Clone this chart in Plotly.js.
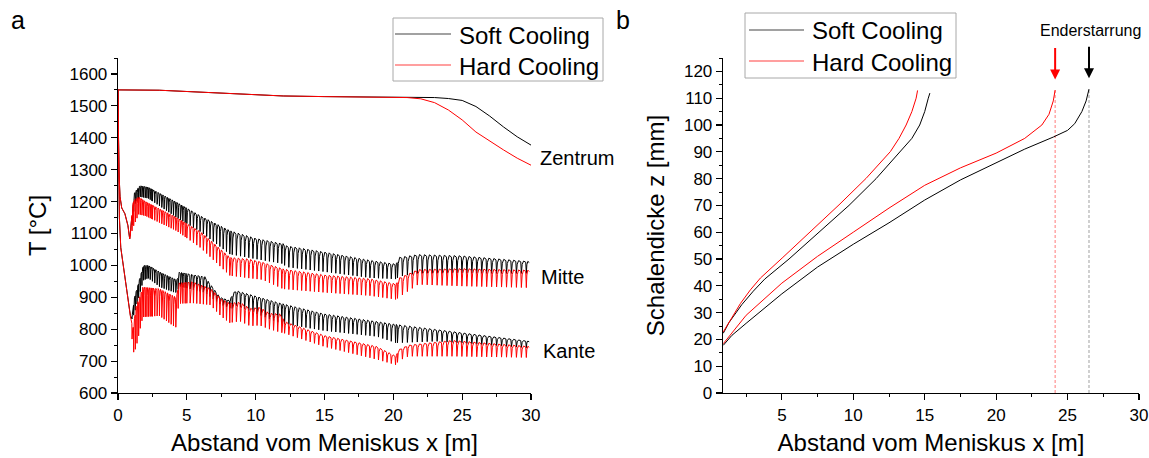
<!DOCTYPE html>
<html><head><meta charset="utf-8">
<script src="https://cdn.plot.ly/plotly-3.0.1.min.js"></script>
<style>html,body{margin:0;padding:0;background:#fff}#chart{width:1149px;height:458px}</style>
</head><body><div id="chart"></div>
<script>
// ---------- Panel a: temperature vs distance ----------
// Zentrum (smooth)
const zentrumSoftX = [0, 1, 3, 5, 8, 10, 12, 15, 18, 20, 22, 23, 24, 25, 26, 27, 28, 29, 30];
const zentrumSoftT = [1550, 1550, 1549, 1545, 1538, 1534, 1531, 1529, 1528, 1528, 1527, 1526, 1523, 1517, 1498, 1468, 1434, 1403, 1377];
const zentrumHardX = [0, 1, 3, 5, 8, 10, 12, 15, 18, 20, 21, 22, 23, 24, 25, 26, 27, 28, 29, 30];
const zentrumHardT = [1550, 1550, 1549, 1545, 1538, 1534, 1531, 1529, 1528, 1527, 1526, 1522, 1510, 1487, 1456, 1418, 1389, 1362, 1336, 1314];

// Mitte: initial smooth drop (shared), then roll-induced oscillation envelopes
const mitteStartX = [0, 0.02, 0.06, 0.15, 0.27, 0.5, 0.72, 0.85];
const mitteStartT = [1550, 1420, 1300, 1215, 1180, 1162, 1125, 1083];
const mitteSoftEnvX = [0.85, 1.0, 1.2, 1.6, 2.2, 4.26, 6, 8.13, 10, 12, 12.2, 15, 18.3, 20.2, 20.4, 21.8, 25, 29.9];
const mitteSoftTop  = [1083, 1150, 1229, 1250, 1245, 1198, 1155, 1109, 1085, 1068, 1062, 1042, 1016, 1004, 1025, 1034, 1030, 1012];
const mitteSoftBot  = [1083, 1120, 1190, 1215, 1210, 1150, 1105, 1035, 1020, 1005, 995, 980, 961, 957, 965, 975, 975, 975];
const mitteHardEnvX = [0.85, 1.1, 1.5, 2.0, 4.26, 6, 8.13, 9.5, 10.5, 12, 15, 18.3, 20.2, 20.4, 21.8, 25, 29.9];
const mitteHardTop  = [1083, 1203, 1215, 1200, 1150, 1105, 1025, 1020, 1010, 989, 970, 958, 942, 960, 987, 990, 985];
const mitteHardBot  = [1083, 1120, 1160, 1155, 1108, 1055, 968, 960, 955, 926, 915, 905, 893, 900, 940, 935, 930];

// Kante
const kanteStartX = [0, 0.02, 0.04, 0.1, 0.2, 0.4, 0.6, 0.78, 0.9];
const kanteStartT = [1550, 1420, 1300, 1150, 1056, 990, 930, 880, 843];
const kanteSoftEnvX = [0.9, 1.0, 1.2, 1.84, 2.2, 3.05, 4.1, 4.3, 4.45, 5.7, 6.3, 7.4, 8.1, 8.4, 8.6, 11.77, 15, 18.8, 20.2, 23.1, 29.9];
const kanteSoftTop  = [843, 835, 900, 1000, 1000, 979, 958, 955, 979, 969, 965, 900, 890, 915, 921, 882, 848, 824, 815, 799, 762];
const kanteSoftBot  = [843, 830, 850, 953, 960, 932, 915, 915, 935, 921, 915, 879, 865, 865, 874, 819, 795, 777, 757, 762, 741];
const kanteHardEnvX = [0.9, 1.1, 1.3, 1.8, 3.0, 4.0, 4.25, 4.4, 5.4, 6.7, 7.5, 8.1, 8.85, 9.6, 10.3, 11.0, 11.8, 12.1, 15, 18.8, 20.2, 20.35, 21.1, 24.3, 29.9];
const kanteHardTop  = [840, 800, 870, 932, 927, 905, 900, 945, 949, 928, 895, 882, 885, 865, 869, 850, 848, 824, 780, 746, 715, 735, 750, 765, 746];
const kanteHardBot  = [835, 725, 740, 838, 842, 811, 805, 880, 882, 876, 840, 820, 825, 810, 812, 800, 790, 787, 745, 705, 688, 700, 715, 715, 711];

// roll zones read from the tooth spacing: [from, to, pitch]
const rollZones = [[0.9, 2.5, 0.12], [2.5, 5.0, 0.17], [5.0, 8.3, 0.24], [8.3, 12.1, 0.3], [12.1, 20.3, 0.31], [20.3, 30.0, 0.36]];

// ---------- Panel b: shell thickness ----------
const shellASoftX = [0.9, 1.3, 2.2, 3.0, 3.8, 5.5, 7.6, 9.7, 11.6, 13.3, 14.1, 14.65, 15.0, 15.25, 15.36];
const shellASoftZ = [22.3, 26.3, 33.0, 38.0, 42.5, 50, 60, 70, 80, 90, 95, 100, 105, 110, 111.9];
const shellAHardX = [0.9, 1.5, 2.1, 2.8, 3.5, 5.07, 7.05, 9.0, 10.9, 12.6, 13.2, 13.7, 14.1, 14.4, 14.5];
const shellAHardZ = [22.8, 28, 33.4, 38.5, 42.9, 50.6, 60.4, 70.2, 80.1, 90.1, 95, 100, 105, 110, 112.9];
const shellBSoftX = [0.9, 1.5, 2.5, 5, 7.5, 10, 12.5, 15, 17.5, 20, 22, 24, 25, 25.5, 26, 26.3, 26.5];
const shellBSoftZ = [17.8, 21.5, 26, 37, 47, 55.5, 63.5, 72, 79.5, 86, 91, 95.5, 98, 100.5, 105, 109, 113.4];
const shellBHardX = [0.9, 1.5, 2.5, 5, 7.5, 10, 12.5, 15, 17.5, 20, 22, 23.2, 23.7, 24.0, 24.13];
const shellBHardZ = [18.4, 22.5, 29, 41, 51, 60, 69, 77.5, 84, 89.5, 95, 100, 104, 109, 113];

const labels = {soft: 'Soft Cooling', hard: 'Hard Cooling', z: 'Zentrum', m: 'Mitte', k: 'Kante', end: 'Enderstarrung'};

// ---------- helpers ----------
function interp(xs, ys, x) {
  if (x <= xs[0]) return ys[0];
  for (let i = 1; i < xs.length; i++) {
    if (x <= xs[i]) { const t = (x - xs[i-1]) / (xs[i] - xs[i-1]); return ys[i-1] + t * (ys[i] - ys[i-1]); }
  }
  return ys[ys.length - 1];
}
function rollList() {
  const r = [];
  rollZones.forEach(([a, b, p]) => { for (let x = a; x < b - 1e-6; x += p) r.push(+x.toFixed(4)); });
  r.push(30.0);
  return r;
}
const rolls = rollList();
function oscillating(sx, st, ex, top, bot) {
  const X = sx.slice(), Y = st.slice();
  const x0 = ex[0], x1 = ex[ex.length - 1];
  const rr = rolls.filter(r => r >= x0 && r <= x1);
  for (let i = 0; i < rr.length; i++) {
    const r = rr[i];
    const p = (i + 1 < rr.length ? rr[i+1] : x1) - r;
    const T = (x) => interp(ex, top, x), B = (x) => interp(ex, bot, x);
    const a = T(r) - B(r);
    X.push(r); Y.push(B(r));
    if (p > 0.02) {
      X.push(r + 0.16*p); Y.push(T(r + 0.16*p) - 0.28*a);
      X.push(r + 0.45*p); Y.push(T(r + 0.45*p));
      X.push(r + 0.88*p); Y.push(T(r + 0.88*p) - 0.08*a);
    }
  }
  return {x: X, y: Y};
}

const BLACK = '#000000', RED = '#ff0000';
const FONT = 'Liberation Sans, Arial, sans-serif';
const traces = [];
function line(x, y, color, xa, ya, extra) {
  return Object.assign({x, y, type: 'scatter', mode: 'lines', line: {color, width: 1}, xaxis: xa, yaxis: ya, hoverinfo: 'skip', showlegend: false}, extra || {});
}
// panel a
const mS = oscillating(mitteStartX, mitteStartT, mitteSoftEnvX, mitteSoftTop, mitteSoftBot);
const mH = oscillating(mitteStartX, mitteStartT, mitteHardEnvX, mitteHardTop, mitteHardBot);
const kS = oscillating(kanteStartX, kanteStartT, kanteSoftEnvX, kanteSoftTop, kanteSoftBot);
const kH = oscillating(kanteStartX, kanteStartT, kanteHardEnvX, kanteHardTop, kanteHardBot);
traces.push(line(zentrumSoftX, zentrumSoftT, BLACK, 'x', 'y', {name: labels.soft}));
traces.push(line(mS.x, mS.y, BLACK, 'x', 'y', {name: labels.soft}));
traces.push(line(kS.x, kS.y, BLACK, 'x', 'y', {name: labels.soft}));
traces.push(line(zentrumHardX, zentrumHardT, RED, 'x', 'y', {name: labels.hard}));
traces.push(line(mH.x, mH.y, RED, 'x', 'y', {name: labels.hard}));
traces.push(line(kH.x, kH.y, RED, 'x', 'y', {name: labels.hard}));
// panel b
const last = a => a[a.length - 1];
traces.push(line([last(shellBHardX), last(shellBHardX)], [0, last(shellBHardZ)], RED, 'x2', 'y2', {line: {color: 'rgba(255,90,90,0.8)', width: 1, dash: '3px,2px'}}));
traces.push(line([last(shellBSoftX), last(shellBSoftX)], [0, last(shellBSoftZ)], BLACK, 'x2', 'y2', {line: {color: 'rgba(150,150,150,0.9)', width: 1, dash: '3px,2px'}}));
traces.push(line(shellASoftX, shellASoftZ, BLACK, 'x2', 'y2', {name: labels.soft}));
traces.push(line(shellBSoftX, shellBSoftZ, BLACK, 'x2', 'y2', {name: labels.soft}));
traces.push(line(shellAHardX, shellAHardZ, RED, 'x2', 'y2', {name: labels.hard}));
traces.push(line(shellBHardX, shellBHardZ, RED, 'x2', 'y2', {name: labels.hard}));

const W = 1149, H = 458, T0 = 58, B0 = 65, PH = H - T0 - B0;
const py = px => 1 + (T0 - px) / PH;  // pixel-from-top -> paper y
const pxX = px => px / W;

const axisCommon = {
  showline: true, linecolor: '#000', linewidth: 1.3, ticks: 'outside', ticklen: 6, tickwidth: 1.2, tickcolor: '#000',
  showgrid: false, zeroline: false, mirror: false, tickfont: {family: FONT, size: 17, color: '#000'},
  minor: {ticks: 'outside', ticklen: 3, tickwidth: 1, tickcolor: '#000', showgrid: false}
};
const titleFont = {family: FONT, size: 24, color: '#000'};

// manual legend boxes (two panels)
const legendBoxes = [
  {x0: 393, x1: 603, y0: 18, y1: 81, lx0: 395, lx1: 451, ySoft: 34, yHard: 65, tx: 457},
  {x0: 745, x1: 956, y0: 13, y1: 78, lx0: 749, lx1: 804, ySoft: 30, yHard: 61, tx: 810}
];
const shapes = [], annotations = [];
legendBoxes.forEach(b => {
  shapes.push({type: 'rect', xref: 'paper', yref: 'paper', x0: pxX(b.x0), x1: pxX(b.x1), y0: py(b.y1), y1: py(b.y0), line: {color: '#a8a8a8', width: 1}, fillcolor: '#fff', layer: 'above'});
  shapes.push({type: 'line', xref: 'paper', yref: 'paper', x0: pxX(b.lx0), x1: pxX(b.lx1), y0: py(b.ySoft), y1: py(b.ySoft), line: {color: '#444', width: 1.2}});
  shapes.push({type: 'line', xref: 'paper', yref: 'paper', x0: pxX(b.lx0), x1: pxX(b.lx1), y0: py(b.yHard), y1: py(b.yHard), line: {color: '#ff4040', width: 1.2}});
  annotations.push({xref: 'paper', yref: 'paper', x: pxX(b.tx), y: py(b.ySoft + 1), text: labels.soft, showarrow: false, xanchor: 'left', yanchor: 'middle', font: {family: FONT, size: 24, color: '#000'}});
  annotations.push({xref: 'paper', yref: 'paper', x: pxX(b.tx), y: py(b.yHard + 1), text: labels.hard, showarrow: false, xanchor: 'left', yanchor: 'middle', font: {family: FONT, size: 24, color: '#000'}});
});
annotations.push(
  {xref: 'paper', yref: 'paper', x: pxX(17.8), y: py(20), text: 'a', showarrow: false, font: {family: FONT, size: 25}, xanchor: 'center', yanchor: 'middle'},
  {xref: 'paper', yref: 'paper', x: pxX(623), y: py(20), text: 'b', showarrow: false, font: {family: FONT, size: 25}, xanchor: 'center', yanchor: 'middle'},
  {xref: 'paper', yref: 'paper', x: pxX(538), y: py(158), text: labels.z, showarrow: false, xanchor: 'left', yanchor: 'middle', font: {family: FONT, size: 20}},
  {xref: 'paper', yref: 'paper', x: pxX(539), y: py(277), text: labels.m, showarrow: false, xanchor: 'left', yanchor: 'middle', font: {family: FONT, size: 20}},
  {xref: 'paper', yref: 'paper', x: pxX(541), y: py(351), text: labels.k, showarrow: false, xanchor: 'left', yanchor: 'middle', font: {family: FONT, size: 20}},
  {xref: 'paper', yref: 'paper', x: pxX(1090), y: py(30), text: labels.end, showarrow: false, xanchor: 'center', yanchor: 'middle', font: {family: FONT, size: 16}},
  {xref: 'x2', yref: 'y2', x: last(shellBHardX), y: last(shellBHardZ) + 4, text: '', showarrow: true, ax: 0, ay: -33, arrowhead: 2, arrowsize: 1, arrowwidth: 2, arrowcolor: RED},
  {xref: 'x2', yref: 'y2', x: last(shellBSoftX), y: last(shellBSoftZ) + 4, text: '', showarrow: true, ax: 0, ay: -33, arrowhead: 2, arrowsize: 1, arrowwidth: 2, arrowcolor: BLACK}
);

const layout = {
  width: W, height: H, margin: {l: 0, r: 0, t: T0, b: B0}, paper_bgcolor: '#fff', plot_bgcolor: '#fff',
  font: {family: FONT, color: '#000'}, showlegend: false,
  xaxis: Object.assign({}, axisCommon, {domain: [118/W, 531/W], range: [0, 30], dtick: 5, tick0: 0, minor: Object.assign({}, axisCommon.minor, {dtick: 2.5}),
    title: {text: 'Abstand vom Meniskus x [m]', font: titleFont, standoff: 10}, anchor: 'y'}),
  yaxis: Object.assign({}, axisCommon, {domain: [0, 1], range: [600, 1650], dtick: 100, tick0: 600, minor: Object.assign({}, axisCommon.minor, {dtick: 50}),
    title: {text: 'T [°C]', font: titleFont, standoff: 16}, anchor: 'x'}),
  xaxis2: Object.assign({}, axisCommon, {domain: [723/W, 1139/W], range: [0.88, 30], dtick: 5, tick0: 0, minor: Object.assign({}, axisCommon.minor, {dtick: 2.5, tick0: 0}),
    title: {text: 'Abstand vom Meniskus x [m]', font: titleFont, standoff: 10}, anchor: 'y2'}),
  yaxis2: Object.assign({}, axisCommon, {domain: [0, 1], range: [0, 125], dtick: 10, tick0: 0, minor: Object.assign({}, axisCommon.minor, {dtick: 5}),
    title: {text: 'Schalendicke z [mm]', font: titleFont, standoff: 12}, anchor: 'x2'}),
  shapes, annotations
};
Plotly.newPlot('chart', traces, layout, {displayModeBar: false, staticPlot: true});
</script></body></html>
